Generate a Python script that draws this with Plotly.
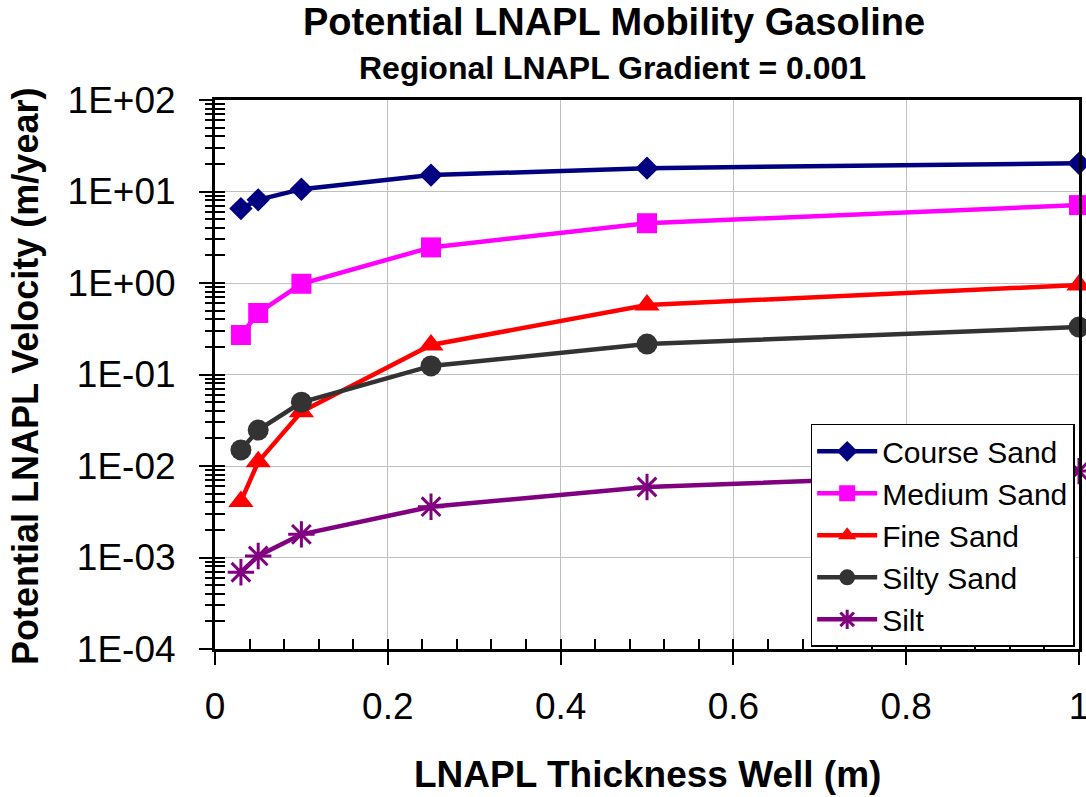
import plotly.graph_objects as go

# LNAPL thickness in the well (m)
thickness = [0.03, 0.05, 0.1, 0.25, 0.5, 1.0]

# Potential LNAPL velocity (m/year) per soil type
course_sand = [6.5, 8.1, 10.6, 15.1, 18.0, 20.3]
medium_sand = [0.27, 0.47, 0.98, 2.45, 4.5, 7.1]
fine_sand = [0.0041, 0.0111, 0.0392, 0.21, 0.575, 0.95]
silty_sand = [0.015, 0.0247, 0.0497, 0.124, 0.215, 0.33]
silt = [0.00069, 0.00104, 0.00179, 0.00359, 0.0059, 0.0088]

series_names = ["Course Sand", "Medium Sand", "Fine Sand", "Silty Sand", "Silt"]

x_tickvals = [0, 0.2, 0.4, 0.6, 0.8, 1.0]
x_ticktext = ["0", "0.2", "0.4", "0.6", "0.8", "1"]
y_tickvals = [1e-4, 1e-3, 1e-2, 1e-1, 1e0, 1e1, 1e2]
y_ticktext = ["1E-04", "1E-03", "1E-02", "1E-01", "1E+00", "1E+01", "1E+02"]

FONT = "Liberation Sans, Arial, sans-serif"

styles = [
    dict(color="#000080", symbol="diamond", size=18),
    dict(color="#FF00FF", symbol="square", size=20),
    dict(color="#FF0000", symbol="triangle-up", size=22),
    dict(color="#333333", symbol="circle", size=21),
    dict(color="#800080", symbol="asterisk-open", size=22),
]
values = [course_sand, medium_sand, fine_sand, silty_sand, silt]

fig = go.Figure()
for name, vals, st in zip(series_names, values, styles):
    marker = dict(symbol=st["symbol"], size=st["size"], color=st["color"])
    if st["symbol"].endswith("open"):
        marker["line"] = dict(width=3, color=st["color"])
    fig.add_trace(go.Scatter(
        x=thickness, y=vals, name=name, mode="lines+markers",
        line=dict(color=st["color"], width=4.5),
        marker=marker, cliponaxis=False,
    ))

# empty traces so the overlaid tick-only axes get drawn
fig.add_trace(go.Scatter(x=[], y=[], xaxis="x2", yaxis="y2",
                         showlegend=False, hoverinfo="skip"))
fig.add_trace(go.Scatter(x=[], y=[], xaxis="x2", yaxis="y3",
                         showlegend=False, hoverinfo="skip"))

grid = "#c0c0c0"
fig.update_layout(
    width=1086, height=797,
    margin=dict(l=215, r=7, t=100, b=148, autoexpand=False),
    paper_bgcolor="white", plot_bgcolor="white",
    font=dict(family=FONT, color="black"),
    showlegend=True,
    xaxis=dict(
        range=[0, 1], tickmode="array", tickvals=x_tickvals, ticktext=x_ticktext,
        ticks="outside", ticklen=13, tickwidth=1.5, tickcolor="black",
        tickfont=dict(size=37, family=FONT, color="black"),
        ticklabelstandoff=10, ticklabeloverflow="allow", automargin=False,
        showgrid=True, gridcolor=grid, gridwidth=1,
        showline=True, linecolor="black", linewidth=3, mirror=True,
        zeroline=False,
    ),
    xaxis2=dict(
        overlaying="x", anchor="y", side="bottom", range=[0, 1],
        tickmode="linear", tick0=0, dtick=0.04, automargin=False,
        ticks="inside", ticklen=10, tickwidth=1.5, tickcolor="black",
        showticklabels=False, showgrid=False, showline=False, zeroline=False,
    ),
    yaxis=dict(
        type="log", range=[-4, 2], tickmode="array",
        tickvals=y_tickvals, ticktext=y_ticktext,
        ticks="outside", ticklen=13, tickwidth=1.5, tickcolor="black",
        tickfont=dict(size=37, family=FONT, color="black"),
        ticklabelstandoff=16, automargin=False,
        showgrid=True, gridcolor=grid, gridwidth=1,
        showline=True, linecolor="black", linewidth=3, mirror=True,
        zeroline=False,
    ),
    yaxis2=dict(
        overlaying="y", anchor="x", side="left", type="log", range=[-4, 2],
        tickmode="linear", dtick="D1", automargin=False,
        ticks="inside", ticklen=10, tickwidth=1.5, tickcolor="black",
        showticklabels=False, showgrid=False, showline=False, zeroline=False,
    ),
    yaxis3=dict(
        overlaying="y", anchor="x", side="left", type="log", range=[-4, 2],
        tickmode="linear", dtick="D1", automargin=False,
        ticks="outside", ticklen=9, tickwidth=1.5, tickcolor="black",
        showticklabels=False, showgrid=False, showline=False, zeroline=False,
    ),
    legend=dict(
        x=0.995, y=0.004, xanchor="right", yanchor="bottom",
        bgcolor="white", bordercolor="black", borderwidth=1.5,
        font=dict(size=30, family=FONT, color="black"),
        itemwidth=60, tracegroupgap=0,
    ),
    annotations=[
        dict(text="Potential LNAPL Mobility Gasoline", xref="paper", yref="paper",
             x=0.4618, y=1.142, xanchor="center", yanchor="middle", showarrow=False,
             font=dict(size=38, family=FONT, color="black", weight="bold")),
        dict(text="Regional LNAPL Gradient = 0.001", xref="paper", yref="paper",
             x=0.460, y=1.058, xanchor="center", yanchor="middle", showarrow=False,
             font=dict(size=32, family=FONT, color="black", weight="bold")),
        dict(text="LNAPL Thickness Well (m)", xref="paper", yref="paper",
             x=0.5005, y=-0.2295, xanchor="center", yanchor="middle", showarrow=False,
             font=dict(size=37, family=FONT, color="black", weight="bold")),
        dict(text="Potential LNAPL Velocity (m/year)", xref="paper", yref="paper",
             x=-0.22, y=0.497, xanchor="center", yanchor="middle", showarrow=False,
             textangle=-90,
             font=dict(size=36, family=FONT, color="black", weight="bold")),
    ],
)

fig.write_html("out.html")
